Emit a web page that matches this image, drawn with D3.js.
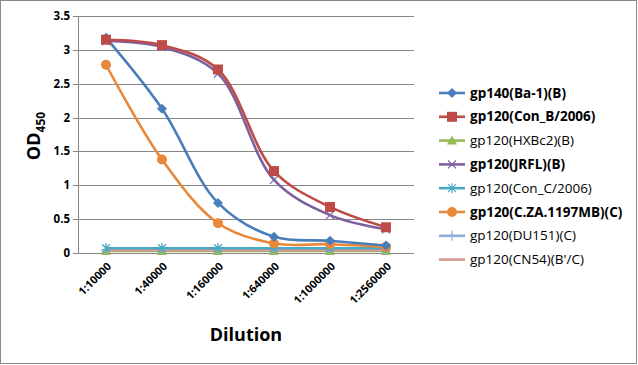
<!DOCTYPE html>
<html><head><meta charset="utf-8">
<script src="https://cdn.jsdelivr.net/npm/d3@7"></script>
<style>body{margin:0;background:#fff}svg{display:block}</style>
</head><body><svg id="c" width="638" height="365"></svg>
<script>
const categories = ["1:10000","1:40000","1:160000","1:640000","1:1000000","1:2560000"];
const yTicks = [0,0.5,1,1.5,2,2.5,3,3.5];
const seriesNames = ["gp140(Ba-1)(B)","gp120(Con_B/2006)","gp120(HXBc2)(B)","gp120(JRFL)(B)","gp120(Con_C/2006)","gp120(C.ZA.1197MB)(C)","gp120(DU151)(C)","gp120(CN54)(B'/C)"];
const vBa1   = [3.18,2.13,0.74,0.24,0.18,0.11];
const vConB  = [3.15,3.07,2.71,1.21,0.68,0.38];
const vHXBc2 = [0.03,0.03,0.03,0.03,0.03,0.03];
const vJRFL  = [3.13,3.04,2.65,1.08,0.56,0.35];
const vConC  = [0.07,0.07,0.07,0.07,0.07,0.07];
const vCZA   = [2.78,1.38,0.44,0.14,0.13,0.09];
const vDU151 = [0.05,0.05,0.05,0.05,0.05,0.05];
const vCN54  = [0.04,0.04,0.04,0.04,0.04,0.04];
const seriesValues = [vBa1,vConB,vHXBc2,vJRFL,vConC,vCZA,vDU151,vCN54];
const colors = ["#4A7EBB","#BE4B48","#98B954","#7D60A0","#46AAC5","#E8883A","#90AEDA","#D99694"];
const markers = ["diamond","square","triangle","x","asterisk","circle","plus","none"];
const boldLegend = [true,true,false,true,false,true,false,false];

const svg = d3.select("#c");
const L=78,T=16,R=414,B=253;
const x = d3.scalePoint().domain(categories).range([L,R]).padding(0.5);
const y = d3.scaleLinear().domain([0,3.5]).range([B,T]);
const F = "'Open Sans',sans-serif";

svg.append("rect").attr("x",0.5).attr("y",0.5).attr("width",636).attr("height",363).attr("fill","#fff").attr("stroke","#8a8a8a");

svg.append("g").selectAll("line").data(yTicks).join("line")
  .attr("x1",L-5).attr("x2",R).attr("y1",d=>Math.round(y(d))+0.5).attr("y2",d=>Math.round(y(d))+0.5)
  .attr("stroke","#868686").attr("stroke-width",1);
svg.append("line").attr("x1",L+0.5).attr("x2",L+0.5).attr("y1",T).attr("y2",B).attr("stroke","#868686");

svg.append("g").selectAll("text").data(yTicks).join("text")
  .attr("x",L-8).attr("y",d=>y(d)+4).attr("text-anchor","end")
  .attr("font-family",F).attr("font-weight","bold").attr("font-size",11.5)
  .text(d=>d);

svg.append("g").selectAll("text").data(categories).join("text")
  .attr("transform",d=>`translate(${x(d)+6},${B+14}) rotate(-45)`).attr("text-anchor","end")
  .attr("font-family",F).attr("font-weight","bold").attr("font-size",11)
  .text(d=>d);

svg.append("text").attr("x",246).attr("y",341).attr("text-anchor","middle")
  .attr("font-family",F).attr("font-weight","bold").attr("font-size",18).text("Dilution");
const yl = svg.append("text").attr("transform","translate(40,136) rotate(-90)").attr("text-anchor","middle")
  .attr("font-family",F).attr("font-weight","bold").attr("font-size",18);
yl.append("tspan").text("OD");
yl.append("tspan").attr("font-size",12).attr("dy",5).text("450");

function marker(g, type, cx, cy, col){
  if(type==="diamond") g.append("path").attr("d",`M${cx},${cy-5}L${cx+5},${cy}L${cx},${cy+5}L${cx-5},${cy}Z`).attr("fill",col);
  else if(type==="square") g.append("rect").attr("x",cx-5).attr("y",cy-5).attr("width",10).attr("height",10).attr("fill",col);
  else if(type==="triangle") g.append("path").attr("d",`M${cx},${cy-5}L${cx+5},${cy+4}L${cx-5},${cy+4}Z`).attr("fill",col);
  else if(type==="circle") g.append("circle").attr("cx",cx).attr("cy",cy).attr("r",5).attr("fill",col);
  else if(type==="x") g.append("path").attr("d",`M${cx-4},${cy-4}L${cx+4},${cy+4}M${cx-4},${cy+4}L${cx+4},${cy-4}`).attr("stroke",col).attr("stroke-width",1.2);
  else if(type==="asterisk") g.append("path").attr("d",`M${cx-4},${cy-4}L${cx+4},${cy+4}M${cx-4},${cy+4}L${cx+4},${cy-4}M${cx},${cy-5}L${cx},${cy+5}`).attr("stroke",col).attr("stroke-width",1.2);
  else if(type==="plus") g.append("path").attr("d",`M${cx-5},${cy}L${cx+5},${cy}M${cx},${cy-5}L${cx},${cy+5}`).attr("stroke",col).attr("stroke-width",1.2);
}

const line = d3.line().x((d,i)=>x(categories[i])).y(d=>y(d)).curve(d3.curveCatmullRom.alpha(0.5));
const order=[2,6,7,4,5,0,3,1];
order.forEach(s=>{
  const g = svg.append("g");
  g.append("path").attr("d",line(seriesValues[s])).attr("fill","none").attr("stroke",colors[s]).attr("stroke-width",2.6);
  seriesValues[s].forEach((v,i)=>marker(g,markers[s],x(categories[i]),y(v),colors[s]));
});

const lg = svg.append("g");
seriesNames.forEach((n,i)=>{
  const yy = 93 + i*23.8;
  lg.append("line").attr("x1",439).attr("x2",465).attr("y1",yy).attr("y2",yy).attr("stroke",colors[i]).attr("stroke-width",2.6);
  marker(lg,markers[i],452,yy,colors[i]);
  lg.append("text").attr("x",470).attr("y",yy+4.5)
    .attr("font-family",F).attr("font-size",13.5)
    .attr("font-weight",boldLegend[i]?"bold":"normal").attr("fill","#000").text(n);
});
</script></body></html>
